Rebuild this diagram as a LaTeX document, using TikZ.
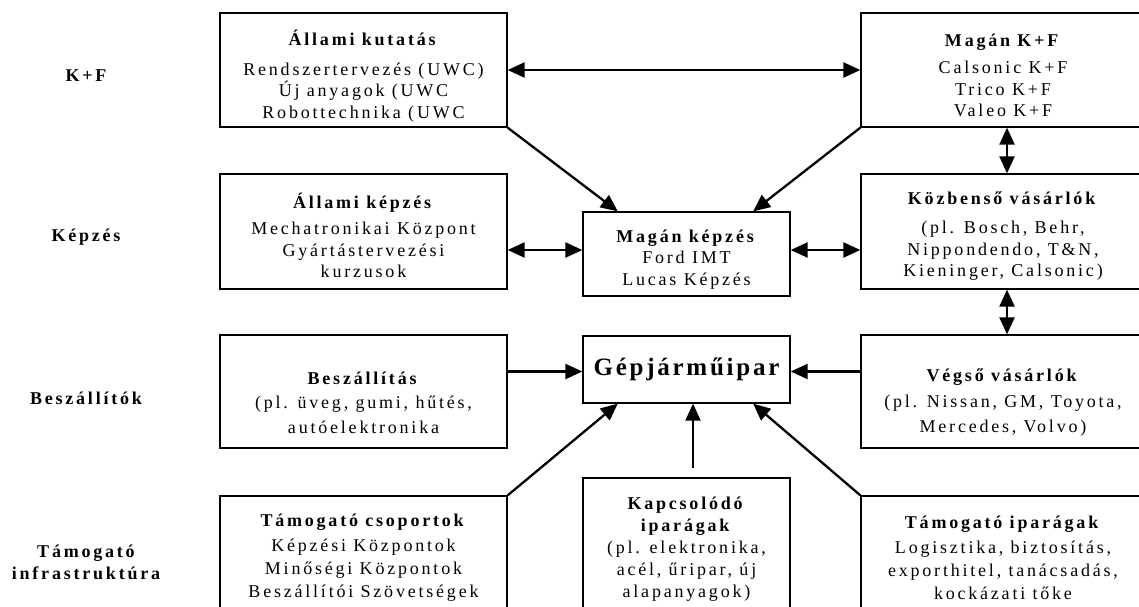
\documentclass[tikz,border=0pt]{standalone}
\usepackage{fontspec}
\setmainfont{Liberation Serif}[LetterSpace=15.5]
\newfontfamily\gepfont{Liberation Serif}[LetterSpace=11]
\usetikzlibrary{arrows.meta,calc}
\tikzset{
  box/.style={draw, line width=1.3pt, inner sep=0pt},
  txt/.style={align=center, inner sep=0pt, font=\fontsize{18}{#1}\selectfont},
  txt/.default=21.5,
  lab/.style={align=center, inner sep=0pt, font=\fontsize{18}{22}\selectfont\bfseries},
  arr/.style={->, line width=2.3pt},
  dbl/.style={<->, line width=2.3pt}
}
\begin{document}
\begin{tikzpicture}[x=1pt,y=-1pt,>={Triangle[length=17pt,width=15pt]}]
\useasboundingbox (0,0) rectangle (1139,606);
\clip (0,0) rectangle (1139,606);
\fill[white] (0,0) rectangle (1139,606);

% row labels
\node[lab] (lkf) at (86,76) {K+F};
\node[lab] (lkep) at (86,237) {Képzés};
\node[lab] (lbesz) at (86,398) {Beszállítók};
\node[lab] (linf) at (86,562) {Támogató\\infrastruktúra};

% row 1
\node[box, minimum width=287, minimum height=114] (akut) at (363.5,70) {};
\node[txt] (akutT) at (363.5,76)
  {\textbf{Állami kutatás}\\[8pt] Rendszertervezés (UWC)\\ Új anyagok (UWC\\ Robottechnika (UWC};
\node[box, minimum width=284, minimum height=114] (mkf) at (1003,70) {};
\node[txt] (mkfT) at (1003,75.5)
  {\textbf{Magán K+F}\\[5.5pt] Calsonic K+F\\ Trico K+F\\ Valeo K+F};

% row 2
\node[box, minimum width=287, minimum height=115] (akep) at (363.5,231.5) {};
\node[txt] (akepT) at (363.5,235.5)
  {\textbf{Állami képzés}\\[4.5pt] Mechatronikai Központ\\ Gyártástervezési\\ kurzusok};
\node[box, minimum width=207, minimum height=84] (mkep) at (686.5,254) {};
\node[txt] (mkepT) at (686.5,259.5)
  {\textbf{Magán képzés}\\ Ford IMT\\ Lucas Képzés};
\node[box, minimum width=284, minimum height=115] (kozb) at (1003,231.5) {};
\node[txt] (kozbT) at (1003,236.5)
  {\textbf{Közbenső vásárlók}\\[7.5pt] (pl. Bosch, Behr,\\ Nippondendo, T\&N,\\ Kieninger, Calsonic)};

% row 3
\node[box, minimum width=287, minimum height=113] (besz) at (363.5,391.5) {};
\node[txt=24.5] (beszT) at (363.5,402.5)
  {\textbf{Beszállítás}\\ (pl. üveg, gumi, hűtés,\\ autóelektronika};
\node[box, minimum width=207, minimum height=67] (gep) at (686.5,369.5) {};
\node[inner sep=0pt, font=\gepfont\fontsize{25}{28}\selectfont\bfseries] (gepT) at (686.5,369.5)
  {Gépjárműipar};
\node[box, minimum width=284, minimum height=113] (vegso) at (1003,391.5) {};
\node[txt=25] (vegsoT) at (1003,402.5)
  {\textbf{Végső vásárlók}\\[1pt] (pl. Nissan, GM, Toyota,\\ Mercedes, Volvo)};

% row 4
\node[box, minimum width=287, minimum height=124] (tcs) at (363.5,558) {};
\node[txt=23] (tcsT) at (363.5,557.5)
  {\textbf{Támogató csoportok}\\[2pt] Képzési Központok\\ Minőségi Központok\\ Beszállítói Szövetségek};
\node[box, minimum width=207, minimum height=143] (kapcs) at (686.5,549.5) {};
\node[txt=22] (kapcsT) at (686.5,549.5)
  {\textbf{Kapcsolódó}\\ \textbf{iparágak}\\ (pl. elektronika,\\ acél, űripar, új\\ alapanyagok)};
\node[box, minimum width=284, minimum height=124] (tip) at (1003,558) {};
\node[txt=23] (tipT) at (1003,557.5)
  {\textbf{Támogató iparágak}\\[2pt] Logisztika, biztosítás,\\ exporthitel, tanácsadás,\\ kockázati tőke};

% connectors
\draw[dbl] (akut.east) -- (mkf.west);
\draw[dbl] ([xshift=4pt]mkf.south) -- ([xshift=4pt]kozb.north);
\draw[dbl] ([xshift=4pt]kozb.south) -- ([xshift=4pt]vegso.north);
\draw[dbl] ([yshift=4pt]mkep.west -| akep.east) -- ([yshift=4pt]mkep.west);
\draw[dbl] ([yshift=4pt]mkep.east) -- ([yshift=4pt]mkep.east -| kozb.west);
\draw[arr] (akut.south east) -- ($(mkep.north west)!0.17!(mkep.north east)$);
\draw[arr] (mkf.south west) -- ($(mkep.north west)!0.82!(mkep.north east)$);
\draw[arr] ([yshift=-2pt]gep.west -| besz.east) -- ([yshift=-2pt]gep.west);
\draw[arr] ([yshift=-2pt]gep.east -| vegso.west) -- ([yshift=-2pt]gep.east);
\draw[arr] (tcs.north east) -- ($(gep.south west)!0.17!(gep.south east)$);
\draw[arr, shorten <=9pt] ([xshift=6.5pt]kapcs.north) -- ([xshift=6.5pt]gep.south);
\draw[arr] (tip.north west) -- ($(gep.south west)!0.82!(gep.south east)$);
\end{tikzpicture}
\end{document}
